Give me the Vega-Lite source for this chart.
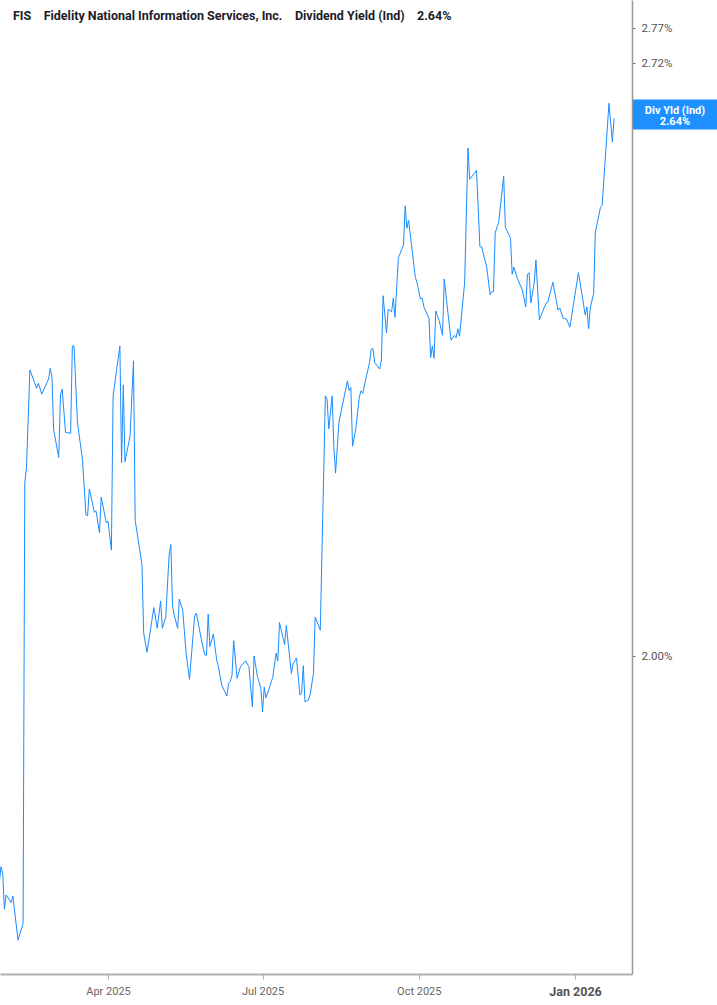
{
  "$schema": "https://vega.github.io/schema/vega-lite/v6.json",
  "width": 632,
  "height": 974,
  "autosize": {"type": "none"},
  "padding": {"left": 0, "top": 0, "right": 85, "bottom": 31},
  "background": "white",
  "config": {"view": {"stroke": null}, "font": "Roboto"},
  "title": {
    "text": "FIS\u00a0\u00a0\u00a0\u00a0Fidelity National Information Services, Inc.\u00a0\u00a0\u00a0\u00a0Dividend Yield (Ind)\u00a0\u00a0\u00a0\u00a02.64%",
    "anchor": "start",
    "frame": "group",
    "orient": "top",
    "offset": -28,
    "dx": 13,
    "baseline": "middle",
    "font": "Roboto",
    "fontSize": 12.5,
    "fontWeight": "bold",
    "color": "#1c1c28"
  },
  "datasets": {
    "fis": [
      {"date": "2025-01-27", "yield": 1.779},
      {"date": "2025-01-28", "yield": 1.793},
      {"date": "2025-01-29", "yield": 1.787},
      {"date": "2025-01-30", "yield": 1.754},
      {"date": "2025-01-31", "yield": 1.767},
      {"date": "2025-02-03", "yield": 1.760},
      {"date": "2025-02-04", "yield": 1.766},
      {"date": "2025-02-07", "yield": 1.726},
      {"date": "2025-02-10", "yield": 1.741},
      {"date": "2025-02-11", "yield": 2.188},
      {"date": "2025-02-12", "yield": 2.205},
      {"date": "2025-02-14", "yield": 2.320},
      {"date": "2025-02-18", "yield": 2.298},
      {"date": "2025-02-19", "yield": 2.304},
      {"date": "2025-02-21", "yield": 2.291},
      {"date": "2025-02-25", "yield": 2.309},
      {"date": "2025-02-26", "yield": 2.322},
      {"date": "2025-02-27", "yield": 2.311},
      {"date": "2025-02-28", "yield": 2.249},
      {"date": "2025-03-03", "yield": 2.217},
      {"date": "2025-03-04", "yield": 2.290},
      {"date": "2025-03-05", "yield": 2.297},
      {"date": "2025-03-07", "yield": 2.246},
      {"date": "2025-03-10", "yield": 2.245},
      {"date": "2025-03-11", "yield": 2.349},
      {"date": "2025-03-12", "yield": 2.349},
      {"date": "2025-03-14", "yield": 2.258},
      {"date": "2025-03-17", "yield": 2.214},
      {"date": "2025-03-19", "yield": 2.152},
      {"date": "2025-03-20", "yield": 2.151},
      {"date": "2025-03-21", "yield": 2.181},
      {"date": "2025-03-24", "yield": 2.155},
      {"date": "2025-03-25", "yield": 2.156},
      {"date": "2025-03-27", "yield": 2.132},
      {"date": "2025-03-28", "yield": 2.172},
      {"date": "2025-03-31", "yield": 2.143},
      {"date": "2025-04-01", "yield": 2.145},
      {"date": "2025-04-03", "yield": 2.113},
      {"date": "2025-04-04", "yield": 2.289},
      {"date": "2025-04-08", "yield": 2.349},
      {"date": "2025-04-09", "yield": 2.211},
      {"date": "2025-04-10", "yield": 2.302},
      {"date": "2025-04-11", "yield": 2.212},
      {"date": "2025-04-14", "yield": 2.242},
      {"date": "2025-04-16", "yield": 2.331},
      {"date": "2025-04-17", "yield": 2.146},
      {"date": "2025-04-21", "yield": 2.097},
      {"date": "2025-04-22", "yield": 2.024},
      {"date": "2025-04-24", "yield": 2.004},
      {"date": "2025-04-28", "yield": 2.051},
      {"date": "2025-04-30", "yield": 2.029},
      {"date": "2025-05-02", "yield": 2.058},
      {"date": "2025-05-03", "yield": 2.029},
      {"date": "2025-05-05", "yield": 2.041},
      {"date": "2025-05-07", "yield": 2.108},
      {"date": "2025-05-08", "yield": 2.119},
      {"date": "2025-05-09", "yield": 2.053},
      {"date": "2025-05-10", "yield": 2.043},
      {"date": "2025-05-12", "yield": 2.029},
      {"date": "2025-05-13", "yield": 2.060},
      {"date": "2025-05-15", "yield": 2.048},
      {"date": "2025-05-17", "yield": 2.003},
      {"date": "2025-05-19", "yield": 1.976},
      {"date": "2025-05-22", "yield": 2.042},
      {"date": "2025-05-23", "yield": 2.045},
      {"date": "2025-05-26", "yield": 2.017},
      {"date": "2025-05-28", "yield": 2.001},
      {"date": "2025-05-29", "yield": 2.001},
      {"date": "2025-05-30", "yield": 2.044},
      {"date": "2025-05-31", "yield": 2.010},
      {"date": "2025-06-02", "yield": 2.023},
      {"date": "2025-06-04", "yield": 1.996},
      {"date": "2025-06-05", "yield": 1.989},
      {"date": "2025-06-07", "yield": 1.970},
      {"date": "2025-06-10", "yield": 1.959},
      {"date": "2025-06-11", "yield": 1.972},
      {"date": "2025-06-12", "yield": 1.974},
      {"date": "2025-06-13", "yield": 1.980},
      {"date": "2025-06-14", "yield": 2.016},
      {"date": "2025-06-16", "yield": 1.977},
      {"date": "2025-06-18", "yield": 1.989},
      {"date": "2025-06-21", "yield": 1.995},
      {"date": "2025-06-23", "yield": 1.989},
      {"date": "2025-06-25", "yield": 1.948},
      {"date": "2025-06-26", "yield": 2.000},
      {"date": "2025-06-28", "yield": 1.979},
      {"date": "2025-06-30", "yield": 1.967},
      {"date": "2025-07-01", "yield": 1.943},
      {"date": "2025-07-02", "yield": 1.968},
      {"date": "2025-07-03", "yield": 1.957},
      {"date": "2025-07-07", "yield": 1.978},
      {"date": "2025-07-09", "yield": 2.003},
      {"date": "2025-07-10", "yield": 1.995},
      {"date": "2025-07-11", "yield": 2.035},
      {"date": "2025-07-14", "yield": 2.012},
      {"date": "2025-07-15", "yield": 2.032},
      {"date": "2025-07-18", "yield": 1.982},
      {"date": "2025-07-19", "yield": 1.992},
      {"date": "2025-07-21", "yield": 1.998},
      {"date": "2025-07-23", "yield": 1.960},
      {"date": "2025-07-24", "yield": 1.962},
      {"date": "2025-07-25", "yield": 1.990},
      {"date": "2025-07-26", "yield": 1.953},
      {"date": "2025-07-28", "yield": 1.955},
      {"date": "2025-07-29", "yield": 1.960},
      {"date": "2025-07-31", "yield": 1.982},
      {"date": "2025-08-01", "yield": 2.041},
      {"date": "2025-08-04", "yield": 2.027},
      {"date": "2025-08-07", "yield": 2.289},
      {"date": "2025-08-08", "yield": 2.285},
      {"date": "2025-08-09", "yield": 2.250},
      {"date": "2025-08-11", "yield": 2.289},
      {"date": "2025-08-12", "yield": 2.229},
      {"date": "2025-08-13", "yield": 2.199},
      {"date": "2025-08-15", "yield": 2.258},
      {"date": "2025-08-20", "yield": 2.307},
      {"date": "2025-08-21", "yield": 2.295},
      {"date": "2025-08-22", "yield": 2.299},
      {"date": "2025-08-23", "yield": 2.230},
      {"date": "2025-08-25", "yield": 2.251},
      {"date": "2025-08-27", "yield": 2.288},
      {"date": "2025-08-28", "yield": 2.295},
      {"date": "2025-08-29", "yield": 2.292},
      {"date": "2025-09-02", "yield": 2.329},
      {"date": "2025-09-03", "yield": 2.345},
      {"date": "2025-09-04", "yield": 2.346},
      {"date": "2025-09-05", "yield": 2.329},
      {"date": "2025-09-08", "yield": 2.321},
      {"date": "2025-09-09", "yield": 2.332},
      {"date": "2025-09-10", "yield": 2.411},
      {"date": "2025-09-12", "yield": 2.365},
      {"date": "2025-09-13", "yield": 2.394},
      {"date": "2025-09-15", "yield": 2.391},
      {"date": "2025-09-16", "yield": 2.408},
      {"date": "2025-09-17", "yield": 2.384},
      {"date": "2025-09-19", "yield": 2.459},
      {"date": "2025-09-22", "yield": 2.475},
      {"date": "2025-09-23", "yield": 2.526},
      {"date": "2025-09-24", "yield": 2.497},
      {"date": "2025-09-25", "yield": 2.507},
      {"date": "2025-09-29", "yield": 2.434},
      {"date": "2025-09-30", "yield": 2.427},
      {"date": "2025-10-02", "yield": 2.407},
      {"date": "2025-10-03", "yield": 2.408},
      {"date": "2025-10-04", "yield": 2.397},
      {"date": "2025-10-07", "yield": 2.383},
      {"date": "2025-10-08", "yield": 2.335},
      {"date": "2025-10-09", "yield": 2.349},
      {"date": "2025-10-10", "yield": 2.334},
      {"date": "2025-10-11", "yield": 2.392},
      {"date": "2025-10-13", "yield": 2.380},
      {"date": "2025-10-15", "yield": 2.362},
      {"date": "2025-10-16", "yield": 2.432},
      {"date": "2025-10-18", "yield": 2.393},
      {"date": "2025-10-20", "yield": 2.356},
      {"date": "2025-10-22", "yield": 2.362},
      {"date": "2025-10-23", "yield": 2.359},
      {"date": "2025-10-24", "yield": 2.370},
      {"date": "2025-10-25", "yield": 2.361},
      {"date": "2025-10-28", "yield": 2.427},
      {"date": "2025-10-30", "yield": 2.603},
      {"date": "2025-10-31", "yield": 2.561},
      {"date": "2025-11-04", "yield": 2.573},
      {"date": "2025-11-06", "yield": 2.473},
      {"date": "2025-11-07", "yield": 2.473},
      {"date": "2025-11-10", "yield": 2.447},
      {"date": "2025-11-12", "yield": 2.412},
      {"date": "2025-11-13", "yield": 2.416},
      {"date": "2025-11-14", "yield": 2.416},
      {"date": "2025-11-15", "yield": 2.491},
      {"date": "2025-11-17", "yield": 2.504},
      {"date": "2025-11-20", "yield": 2.565},
      {"date": "2025-11-21", "yield": 2.498},
      {"date": "2025-11-24", "yield": 2.484},
      {"date": "2025-11-25", "yield": 2.438},
      {"date": "2025-11-26", "yield": 2.447},
      {"date": "2025-11-28", "yield": 2.433},
      {"date": "2025-12-01", "yield": 2.418},
      {"date": "2025-12-03", "yield": 2.397},
      {"date": "2025-12-04", "yield": 2.438},
      {"date": "2025-12-05", "yield": 2.440},
      {"date": "2025-12-06", "yield": 2.402},
      {"date": "2025-12-08", "yield": 2.427},
      {"date": "2025-12-09", "yield": 2.456},
      {"date": "2025-12-11", "yield": 2.381},
      {"date": "2025-12-15", "yield": 2.402},
      {"date": "2025-12-16", "yield": 2.403},
      {"date": "2025-12-19", "yield": 2.428},
      {"date": "2025-12-22", "yield": 2.393},
      {"date": "2025-12-23", "yield": 2.396},
      {"date": "2025-12-25", "yield": 2.383},
      {"date": "2025-12-27", "yield": 2.382},
      {"date": "2025-12-29", "yield": 2.372},
      {"date": "2026-01-03", "yield": 2.440},
      {"date": "2026-01-05", "yield": 2.414},
      {"date": "2026-01-07", "yield": 2.387},
      {"date": "2026-01-08", "yield": 2.397},
      {"date": "2026-01-09", "yield": 2.370},
      {"date": "2026-01-10", "yield": 2.396},
      {"date": "2026-01-12", "yield": 2.414},
      {"date": "2026-01-13", "yield": 2.492},
      {"date": "2026-01-16", "yield": 2.524},
      {"date": "2026-01-17", "yield": 2.527},
      {"date": "2026-01-21", "yield": 2.664},
      {"date": "2026-01-23", "yield": 2.611},
      {"date": "2026-01-24", "yield": 2.643}
    ]
  },
  "layer": [
    {
      "data": {"name": "fis"},
      "mark": {"type": "line", "clip": true, "color": "#1a8cff", "strokeWidth": 1},
      "encoding": {
        "x": {
          "field": "date",
          "type": "temporal",
          "scale": {
            "type": "utc",
            "domain": [
              {"year": 2025, "month": 1, "date": 27, "hours": 9, "minutes": 40, "utc": true},
              {"year": 2026, "month": 2, "date": 3, "hours": 13, "minutes": 30, "utc": true}
            ]
          },
          "axis": {
            "orient": "bottom",
            "title": null,
            "grid": false,
            "values": [
              {"year": 2025, "month": 4, "date": 1, "utc": true},
              {"year": 2025, "month": 7, "date": 1, "utc": true},
              {"year": 2025, "month": 10, "date": 1, "utc": true},
              {"year": 2026, "month": 1, "date": 1, "utc": true}
            ],
            "labelExpr": "utcFormat(datum.value, '%b %Y')",
            "domainColor": "#b0b0b0",
            "domainWidth": 2,
            "tickColor": "#b0b0b0",
            "tickSize": 5,
            "labelPadding": 6,
            "labelFont": "Roboto",
            "labelFontSize": {"condition": {"test": "utcmonth(datum.value) === 0", "value": 12.5}, "value": 11},
            "labelFontWeight": {"condition": {"test": "utcmonth(datum.value) === 0", "value": "bold"}, "value": "normal"},
            "labelColor": {"condition": {"test": "utcmonth(datum.value) === 0", "value": "#555555"}, "value": "#666666"}
          }
        },
        "y": {
          "field": "yield",
          "type": "quantitative",
          "scale": {"type": "log", "domain": [1.696, 2.8106], "nice": false, "zero": false},
          "axis": {
            "orient": "right",
            "title": null,
            "grid": false,
            "values": [2.0, 2.72, 2.77],
            "labelExpr": "format(datum.value, '.2f') + '%'",
            "domainColor": "#999999",
            "domainWidth": 1.5,
            "tickColor": "#666666",
            "tickSize": 3,
            "labelPadding": 6,
            "labelFont": "Roboto",
            "labelFontSize": 11.5,
            "labelColor": "#555555"
          }
        }
      }
    },
    {
      "data": {"name": "fis"},
      "transform": [{"filter": "datum.yield === 2.643"}],
      "mark": {"type": "point", "shape": "M-1,-0.452H1V0.262H-1Z", "size": 7056, "filled": true, "color": "#1e90ff", "opacity": 1, "strokeWidth": 0, "clip": false},
      "encoding": {
        "x": {"datum": {"year": 2026, "month": 2, "date": 28, "hours": 21, "utc": true}, "type": "temporal"},
        "y": {"field": "yield", "type": "quantitative"}
      }
    },
    {
      "data": {"name": "fis"},
      "transform": [{"filter": "datum.yield === 2.643"}],
      "mark": {"type": "text", "color": "white", "font": "Roboto", "fontSize": 11, "fontWeight": "bold", "baseline": "middle", "align": "center", "lineHeight": 11.5, "dy": -8, "clip": false},
      "encoding": {
        "x": {"datum": {"year": 2026, "month": 2, "date": 28, "hours": 21, "utc": true}, "type": "temporal"},
        "y": {"field": "yield", "type": "quantitative"},
        "text": {"value": ["Div Yld (Ind)", "2.64%"]}
      }
    }
  ]
}
